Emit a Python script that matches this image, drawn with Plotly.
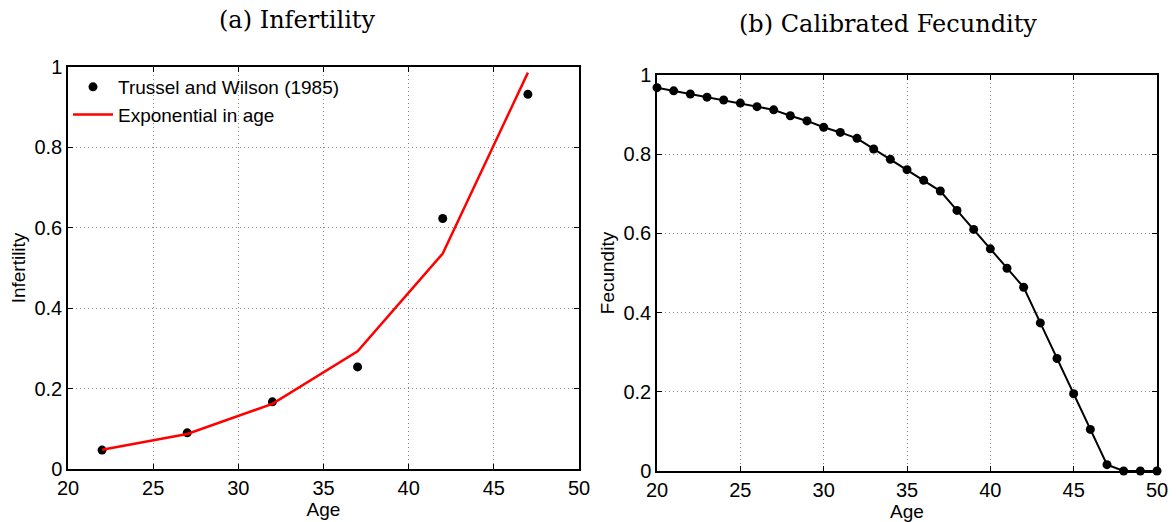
import plotly.graph_objects as go

# Panel (a) data
tw_age = [22, 27, 32, 37, 42, 47]
tw_infertility = [0.047, 0.090, 0.167, 0.254, 0.623, 0.932]
exp_infertility = [0.048, 0.087, 0.162, 0.293, 0.536, 0.986]

# Panel (b) data
fec_age = list(range(20, 51))
fecundity = [0.968, 0.960, 0.952, 0.944, 0.937, 0.929, 0.920, 0.912, 0.897, 0.884,
             0.868, 0.855, 0.840, 0.813, 0.787, 0.761, 0.734, 0.707, 0.658, 0.610,
             0.561, 0.512, 0.464, 0.374, 0.284, 0.195, 0.105, 0.016, 0.0, 0.0, 0.0]

x_ticks = [20, 25, 30, 35, 40, 45, 50]
y_ticks = [0, 0.2, 0.4, 0.6, 0.8, 1]
y_ticktext = ["0", "0.2", "0.4", "0.6", "0.8", "1"]

W, H = 1176, 522
SANS = "Liberation Sans, Arial, Helvetica, sans-serif"
SERIF = "DejaVu Serif, serif"

fig = go.Figure()

fig.add_trace(go.Scatter(
    x=tw_age, y=tw_infertility, mode="markers", name="Trussel and Wilson (1985)",
    marker=dict(color="black", size=9), xaxis="x", yaxis="y", cliponaxis=False))
fig.add_trace(go.Scatter(
    x=tw_age, y=exp_infertility, mode="lines", name="Exponential in age",
    line=dict(color="red", width=2.5), xaxis="x", yaxis="y", cliponaxis=False))
fig.add_trace(go.Scatter(
    x=fec_age, y=fecundity, mode="lines+markers", showlegend=False,
    line=dict(color="black", width=2), marker=dict(color="black", size=9),
    xaxis="x2", yaxis="y2", cliponaxis=False))

def xaxis(domain, anchor):
    return dict(domain=domain, anchor=anchor, range=[20, 50], tickvals=x_ticks,
                showline=True, linecolor="black", linewidth=1.5, mirror="ticks",
                ticks="inside", ticklen=5, tickcolor="black",
                showgrid=True, gridcolor="#888888", griddash="1px,3px", gridwidth=1,
                zeroline=False, tickfont=dict(family=SANS, size=20, color="black"),
                title=dict(text="Age", font=dict(family=SANS, size=19, color="black"), standoff=0),
                automargin=False)

def yaxis(domain, anchor, title):
    return dict(domain=domain, anchor=anchor, range=[0, 1], tickvals=y_ticks, ticktext=y_ticktext,
                showline=True, linecolor="black", linewidth=1.5, mirror="ticks",
                ticks="inside", ticklen=5, tickcolor="black",
                showgrid=True, gridcolor="#888888", griddash="1px,3px", gridwidth=1,
                zeroline=False, tickfont=dict(family=SANS, size=20, color="black"),
                title=dict(text=title, font=dict(family=SANS, size=19, color="black"), standoff=4),
                automargin=False)

fig.update_layout(
    width=W, height=H,
    margin=dict(l=0, r=0, t=0, b=0),
    paper_bgcolor="white", plot_bgcolor="white",
    xaxis=xaxis([68 / W, 579 / W], "y"),
    yaxis=yaxis([(H - 469) / H, (H - 67) / H], "x", "Infertility"),
    xaxis2=xaxis([657 / W, 1157 / W], "y2"),
    yaxis2=yaxis([(H - 471) / H, (H - 75) / H], "x2", "Fecundity"),
    legend=dict(x=68 / W, y=(H - 68) / H, xanchor="left", yanchor="top",
                bgcolor="rgba(0,0,0,0)", font=dict(family=SANS, size=19, color="black"),
                itemwidth=40, tracegroupgap=0),
    annotations=[
        dict(text="(a) Infertility", x=297 / W, y=1 - 20 / H, xref="paper", yref="paper",
             showarrow=False, xanchor="center", yanchor="middle",
             font=dict(family=SERIF, size=24, color="black")),
        dict(text="(b) Calibrated Fecundity", x=888 / W, y=1 - 24 / H, xref="paper", yref="paper",
             showarrow=False, xanchor="center", yanchor="middle",
             font=dict(family=SERIF, size=24, color="black")),
    ],
)

fig.write_html("out.html")
